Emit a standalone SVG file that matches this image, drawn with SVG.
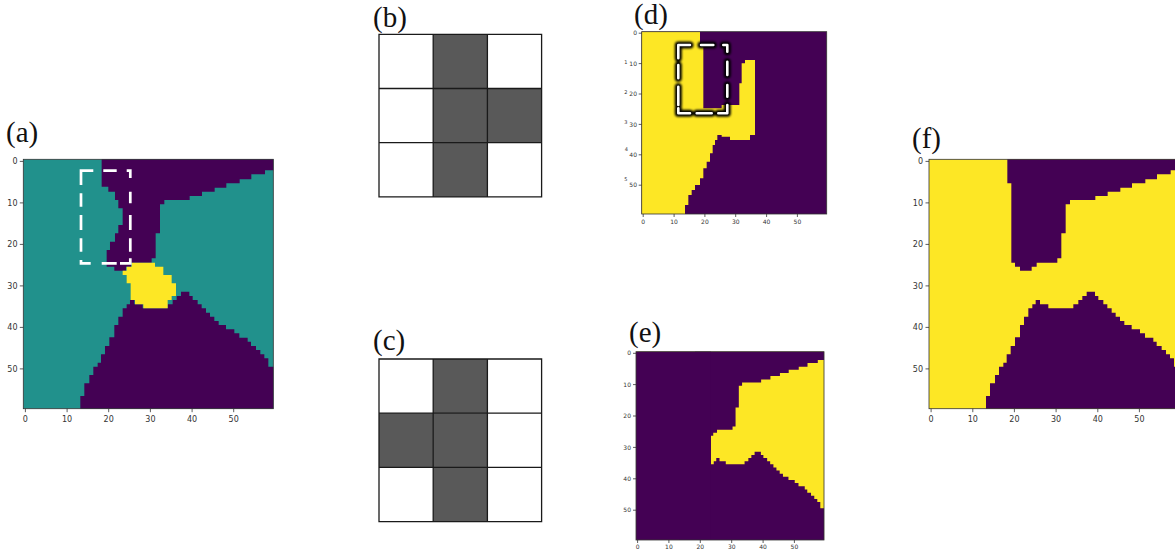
<svg xmlns="http://www.w3.org/2000/svg" xmlns:xlink="http://www.w3.org/1999/xlink" width="1175" height="553" viewBox="0 0 1175 553">
<style>
.lbl{font-family:"Liberation Serif","Times New Roman",serif;font-size:29px;fill:#111}
.pu{fill:#440154}.te{fill:#21918c}.ye{fill:#fde725}
.tk{stroke:#333;stroke-width:0.8}
.sp{fill:none;stroke:#333;stroke-width:0.8}
.t8{font-family:"DejaVu Sans",sans-serif;font-size:8px;fill:#333}
.t6{font-family:"DejaVu Sans",sans-serif;font-size:6px;fill:#333}
.t5{font-family:"DejaVu Sans",sans-serif;font-size:5px;fill:#333}
.e{text-anchor:end}.m{text-anchor:middle}
.cell{fill:#595959}
.grid{fill:none;stroke:#1a1a1a;stroke-width:1.3}
.dashA{fill:none;stroke:#fff;stroke-width:2.7;stroke-linejoin:miter}
.haloD{fill:none;stroke:#000;stroke-width:7;stroke-linecap:round;stroke-linejoin:round}
.dashD{fill:none;stroke:#fff;stroke-width:2.6;stroke-linecap:round;stroke-linejoin:round}
</style>
<defs>
<filter id="blur" x="-20%" y="-20%" width="140%" height="140%"><feGaussianBlur stdDeviation="1.3"/></filter>
<path id="topF" d="M352,118 H867 V151 H842 V163 H801 V178 H766 V190 H726 V203 H691 V215 H653 V228 H616 V240 H540 V253 H527 V340 H514 V415 H502 V428 H440 V440 H425 V452 H390 V440 H375 V428 H364 V190 H352 Z"/>
<path id="topA" d="M352,118 H867 V151 H842 V163 H801 V178 H766 V190 H726 V203 H691 V215 H653 V228 H616 V240 H540 V253 H527 V340 H514 V415 H502 V428 H440 V440 H425 V452 H390 V440 H367 V390 H377 V365 H392 V340 H402 V315 H415 V265 H402 V240 H392 V215 H372 V200 H352 Z"/>
<path id="bot" d="M288,866 V828 H300 V790 H315 V765 H327 V740 H340 V728 H350 V703 H362 V678 H375 V652 H390 V615 H402 V590 H415 V565 H427 V553 H437 V540 H450 V553 H475 V565 H550 V553 H565 V540 H577 V528 H590 V515 H615 V528 H625 V540 H640 V553 H652 V565 H665 V578 H677 V590 H690 V603 H703 V615 H725 V628 H750 V640 H765 V653 H790 V665 H800 V678 H815 V690 H828 V703 H840 V715 H852 V740 H867 V866 Z"/>
<path id="blob" d="M442,428 H512 V440 H537 V465 H562 V490 H575 V528 H562 V540 H550 V565 H477 V553 H452 V540 H439 V490 H427 V465 H415 V452 H427 V440 H442 Z"/>
</defs>

<!-- (a) -->
<g id="panel-a">
<text class="lbl" x="6" y="142">(a)</text>
<g transform="matrix(0.33333,0,0,0.33333,-15.67,120)">
<rect class="te" x="117" y="118" width="750" height="748"/>
<use xlink:href="#topA" class="pu"/>
<use xlink:href="#bot" class="pu"/>
<use xlink:href="#blob" class="ye"/>
</g>
<rect class="sp" x="23.3" y="159.3" width="250" height="249.4"/>
<path class="dashA" d="M81,185 V170.7 H93.3 M103.3,170.7 H116.7 M126.7,170.7 H130.3 V178 M130.3,191.7 V203.3 M130.3,215 V230 M130.3,238.3 V251.7 M130.3,258.3 V263.3 H120 M116.7,263.3 H101.7 M90.7,263.3 H81 V260 M81,251.7 V238.3 M81,230 V215 M81,206.7 V193.3"/>
<g class="tk">
<path d="M19.8,161.4H23.3M19.8,202.9H23.3M19.8,244.4H23.3M19.8,285.9H23.3M19.8,327.4H23.3M19.8,368.9H23.3"/>
<path d="M25.4,408.7V412.2M67.1,408.7V412.2M108.7,408.7V412.2M150.4,408.7V412.2M192.1,408.7V412.2M233.7,408.7V412.2"/>
</g>
<g class="t8 e">
<text x="17.5" y="164.3">0</text><text x="17.5" y="205.8">10</text><text x="17.5" y="247.3">20</text><text x="17.5" y="288.8">30</text><text x="17.5" y="330.3">40</text><text x="17.5" y="371.8">50</text>
</g>
<g class="t8 m">
<text x="25.4" y="422">0</text><text x="67.1" y="422">10</text><text x="108.7" y="422">20</text><text x="150.4" y="422">30</text><text x="192.1" y="422">40</text><text x="233.7" y="422">50</text>
</g>
</g>

<!-- (b) -->
<g id="panel-b">
<text class="lbl" x="373" y="26.6">(b)</text>
<rect class="cell" x="433.2" y="34.3" width="54.2" height="54.2"/>
<rect class="cell" x="433.2" y="88.5" width="54.2" height="54.2"/>
<rect class="cell" x="487.4" y="88.5" width="54.2" height="54.2"/>
<rect class="cell" x="433.2" y="142.7" width="54.2" height="54.2"/>
<path class="grid" d="M379,34.3H541.6V196.9H379Z M433.2,34.3V196.9 M487.4,34.3V196.9 M379,88.5H541.6 M379,142.7H541.6"/>
</g>

<!-- (c) -->
<g id="panel-c">
<text class="lbl" x="373" y="350">(c)</text>
<rect class="cell" x="433.2" y="359" width="54.2" height="54.2"/>
<rect class="cell" x="379" y="413.2" width="54.2" height="54.2"/>
<rect class="cell" x="433.2" y="413.2" width="54.2" height="54.2"/>
<rect class="cell" x="433.2" y="467.4" width="54.2" height="54.2"/>
<path class="grid" d="M379,359H541.6V521.6H379Z M433.2,359V521.6 M487.4,359V521.6 M379,413.2H541.6 M379,467.4H541.6"/>
</g>

<!-- (d) -->
<g id="panel-d">
<g transform="translate(640,25) scale(0.33333)">
<rect class="pu" x="5" y="20" width="555" height="547"/>
<path class="ye" d="M5,20 H180 V65 H190 V250 H245 V240 H298 V175 H305 V115 H315 V105 H345 V330 H330 V345 H270 V335 H245 V330 H232 V345 H225 V360 H218 V385 H210 V410 H200 V430 H190 V460 H180 V480 H165 V495 H155 V510 H145 V540 H135 V567 H5 Z"/>
</g>
<rect class="sp" x="641.7" y="31.7" width="185" height="182.3"/>
<text class="lbl" x="634" y="23.5">(d)</text>
<g id="d-box">
<path class="haloD" filter="url(#blur)" d="M678.3,58.3 V45 H690 M701,45 H713.3 M723.3,45 H727.3 V51.7 M727.3,61.7 V75 M727.3,85 V96.7 M727.3,105 V113.3 H718.3 M711.7,113.3 H696.7 M690,113.3 H678.3 V108.3 M678.3,105 V86.7 M678.3,78.3 V65"/>
<path class="dashD" d="M678.3,58.3 V45 H690 M701,45 H713.3 M723.3,45 H727.3 V51.7 M727.3,61.7 V75 M727.3,85 V96.7 M727.3,105 V113.3 H718.3 M711.7,113.3 H696.7 M690,113.3 H678.3 V108.3 M678.3,105 V86.7 M678.3,78.3 V65"/>
</g>
<g class="tk">
<path d="M638.7,33.2H641.7M638.7,63.6H641.7M638.7,94H641.7M638.7,124.4H641.7M638.7,154.8H641.7M638.7,185.2H641.7"/>
<path d="M643.2,214V217M674.1,214V217M704.9,214V217M735.7,214V217M766.6,214V217M797.4,214V217"/>
</g>
<g class="t6 e">
<text x="637" y="35.4">0</text><text x="637" y="65.8">10</text><text x="637" y="96.2">20</text><text x="637" y="126.6">30</text><text x="637" y="157">40</text><text x="637" y="187.4">50</text>
</g>
<g class="t5 e">
<text x="627.5" y="63.5">1</text><text x="627.5" y="94">2</text><text x="627.5" y="123.5">3</text><text x="628" y="150.8">4</text><text x="627.5" y="180.8">5</text>
</g>
<g class="t6 m">
<text x="643.2" y="223.5">0</text><text x="674.1" y="223.5">10</text><text x="704.9" y="223.5">20</text><text x="735.7" y="223.5">30</text><text x="766.6" y="223.5">40</text><text x="797.4" y="223.5">50</text>
</g>
</g>

<!-- (e) -->
<g id="panel-e">
<text class="lbl" x="629" y="341.6">(e)</text>
<g transform="matrix(0.2507,0,0,0.2517,606.7,322)">
<rect class="ye" x="117" y="118" width="750" height="748"/>
<use xlink:href="#topF" class="pu"/>
<use xlink:href="#bot" class="pu"/>
<rect class="pu" x="117" y="118" width="299" height="748"/>
</g>
<rect class="sp" x="636" y="351.7" width="188" height="188.3"/>
<g class="tk">
<path d="M633,353.3H636M633,384.6H636M633,416H636M633,447.4H636M633,478.8H636M633,510.2H636"/>
<path d="M637.6,540V543M668.9,540V543M700.3,540V543M731.7,540V543M763.1,540V543M794.4,540V543"/>
</g>
<g class="t6 e">
<text x="631" y="355.4">0</text><text x="631" y="386.7">10</text><text x="631" y="418.1">20</text><text x="631" y="449.5">30</text><text x="631" y="480.9">40</text><text x="631" y="512.3">50</text>
</g>
<g class="t6 m">
<text x="637.6" y="549">0</text><text x="668.9" y="549">10</text><text x="700.3" y="549">20</text><text x="731.7" y="549">30</text><text x="763.1" y="549">40</text><text x="794.4" y="549">50</text>
</g>
</g>

<!-- (f) -->
<g id="panel-f">
<text class="lbl" x="912" y="147.6">(f)</text>
<g transform="translate(890,120) scale(0.33333)">
<rect class="ye" x="117" y="118" width="750" height="748"/>
<use xlink:href="#topF" class="pu"/>
<use xlink:href="#bot" class="pu"/>
</g>
<rect class="sp" x="929" y="159.3" width="250" height="249.4"/>
<g class="tk">
<path d="M925.5,161.4H929M925.5,202.9H929M925.5,244.4H929M925.5,285.9H929M925.5,327.4H929M925.5,368.9H929"/>
<path d="M931.1,408.7V412.2M972.8,408.7V412.2M1014.4,408.7V412.2M1056.1,408.7V412.2M1097.8,408.7V412.2M1139.4,408.7V412.2"/>
</g>
<g class="t8 e">
<text x="923" y="164.3">0</text><text x="923" y="205.8">10</text><text x="923" y="247.3">20</text><text x="923" y="288.8">30</text><text x="923" y="330.3">40</text><text x="923" y="371.8">50</text>
</g>
<g class="t8 m">
<text x="931.1" y="422">0</text><text x="972.8" y="422">10</text><text x="1014.4" y="422">20</text><text x="1056.1" y="422">30</text><text x="1097.8" y="422">40</text><text x="1139.4" y="422">50</text>
</g>
</g>
</svg>
